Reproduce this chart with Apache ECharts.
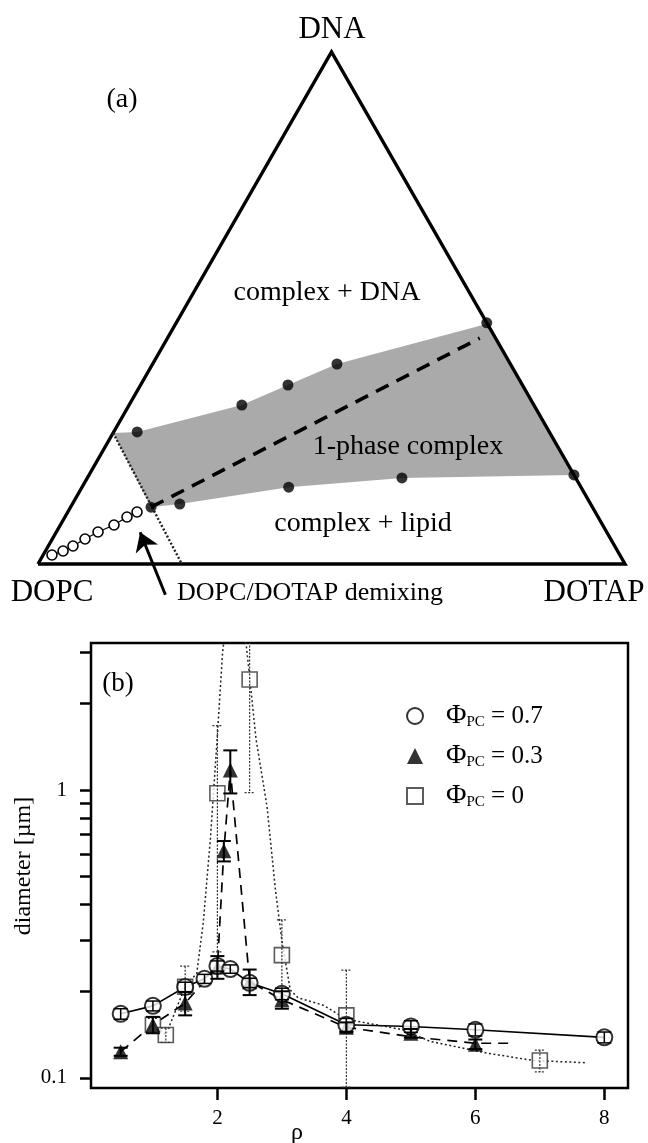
<!DOCTYPE html>
<html>
<head>
<meta charset="utf-8">
<script src="https://cdn.jsdelivr.net/npm/echarts@6/dist/echarts.min.js"></script>
<style>
  html, body { margin: 0; padding: 0; background: #fff; }
  #main { width: 648px; height: 1143px; }
</style>
</head>
<body>
<div id="main"></div>
<script>
// ---- (a) ternary diagram, compositions as [DOTAP fraction, DNA fraction] (DOPC = rest)
const vertices = [[0, 0], [1, 0], [0, 1], [0, 0]];
const boundaryTop = [[0.040, 0.258], [0.192, 0.3105], [0.251, 0.3496], [0.314, 0.3906], [0.529, 0.471]];
const boundaryBottom = [[0.137, 0.111], [0.183, 0.117], [0.352, 0.150], [0.536, 0.168], [0.826, 0.174]];
const demixPts = [[0.015, 0.0176], [0.030, 0.0254], [0.042, 0.0352], [0.0557, 0.0488],
                  [0.071, 0.0625], [0.0914, 0.0762], [0.1057, 0.0918], [0.1179, 0.1016]];
const isoelectric = [[0.137, 0.111], [0.532, 0.441]];
const demixBoundary = [[0, 0.256], [0.245, 0]];
const onePhase = [[0, 0.256], [0.040, 0.258], [0.192, 0.3105], [0.251, 0.3496], [0.314, 0.3906],
                  [0.531, 0.469], [0.826, 0.174], [0.536, 0.168], [0.352, 0.150], [0.183, 0.117], [0.137, 0.111]];
const arrowPts = [[0.247, -0.060], [0.143, 0.062]];

// ---- (b) diameter vs rho
const rho07 = [0.5, 1.0, 1.5, 1.8, 2.0, 2.2, 2.5, 3.0, 4.0, 5.0, 6.0, 8.0];
const d07 = [0.167, 0.178, 0.207, 0.221, 0.245, 0.239, 0.214, 0.196, 0.153, 0.151, 0.147, 0.1384];
const err07 = [0.007, 0.007, 0.008, 0.008, 0.010, 0.008, 0.008, 0.009, 0.008, 0.007, 0.007, 0.006];

const rho03 = [0.5, 1.0, 1.5, 2.0, 2.1, 2.2, 2.5, 3.0, 4.0, 5.0, 6.0];
const d03 = [0.1234, 0.153, 0.182, 0.243, 0.615, 1.173, 0.216, 0.187, 0.150, 0.143, 0.131];
const err03 = [0.004, 0.010, 0.017, 0.022, 0.050, 0.200, 0.022, 0.013, 0.006, 0.005, 0.005];
const rho03Guide = [0.5, 1.0, 1.5, 2.0, 2.1, 2.2, 2.5, 3.0, 4.0, 5.0, 6.0, 6.55];
const d03Guide = [0.1234, 0.153, 0.182, 0.243, 0.615, 1.173, 0.216, 0.187, 0.150, 0.139, 0.132, 0.132];

const rho00 = [1.0, 1.2, 1.5, 2.0, 2.5, 3.0, 4.0, 7.0];
const d00 = [0.153, 0.141, 0.2075, 0.974, 2.42, 0.267, 0.165, 0.115];
const err00 = [0.008, 0.008, 0.037, 0.70, 1.44, 0.087, 0.072, 0.010];
const rho00Guide = [1.0, 1.2, 1.5, 1.68, 1.78, 1.89, 2.0, 2.08, 2.2, 2.35, 2.46, 2.6, 2.77, 2.9, 3.0,
                    3.13, 3.25, 3.64, 4.0, 4.88, 5.3, 6.18, 6.9, 7.7];
const d00Guide = [0.153, 0.141, 0.2075, 0.231, 0.345, 0.67, 1.55, 3.0, 5, 5, 3.0, 1.5, 0.875, 0.45, 0.30,
                  0.202, 0.19, 0.179, 0.16, 0.147, 0.134, 0.122, 0.115, 0.113];

const xTicks = [2, 4, 6, 8];
const yTicks = [0.1, 0.2, 0.3, 0.4, 0.5, 0.6, 0.7, 0.8, 0.9, 1, 2, 3];
const yLabels = [0.1, 1];
const names = ['pc07', 'pc03', 'pc00'];
const legendText = { pc07: ' = 0.7', pc03: ' = 0.3', pc00: ' = 0' };

const S3 = Math.sqrt(3) / 2;
function tern(p) { return [p[0] + p[1] / 2, p[1] * S3]; }
function zip(a, b, c) { return a.map((v, i) => c ? [v, b[i], c[i]] : [v, b[i]]); }

var myChart = echarts.init(document.getElementById('main'));
const serif = 'Liberation Serif';

function errRender(capW, color, width, dash) {
  return function (params, api) {
    const x = api.value(0), y = api.value(1), e = api.value(2);
    const top = api.coord([x, y + e]);
    const bot = api.coord([x, Math.max(y - e, 0.001)]);
    const st = { stroke: color, lineWidth: width, lineDash: dash };
    return {
      type: 'group',
      children: [
        { type: 'line', shape: { x1: top[0], y1: top[1], x2: bot[0], y2: bot[1] }, style: st },
        { type: 'line', shape: { x1: top[0] - capW, y1: top[1], x2: top[0] + capW, y2: top[1] }, style: st },
        { type: 'line', shape: { x1: bot[0] - capW, y1: bot[1], x2: bot[0] + capW, y2: bot[1] }, style: st }
      ]
    };
  };
}

function txt(x, y, s, size, extra) {
  return Object.assign({
    type: 'text', x: x, y: y, z: 100,
    style: { text: s, fontFamily: serif, fontSize: size, fill: '#000', align: 'center', verticalAlign: 'middle' }
  }, extra || {});
}

var option = {
  animation: false,
  grid: [
    { left: 38, top: 52, width: 587, height: 512, show: false },
    { left: 91, top: 643, width: 537, height: 445, show: true, borderColor: '#000', borderWidth: 2.5 }
  ],
  xAxis: [
    { gridIndex: 0, type: 'value', min: 0, max: 1, show: false },
    {
      gridIndex: 1, type: 'value', min: 0.04, max: 8.367,
      axisLine: { show: false },
      splitLine: { show: false },
      axisTick: { show: true, inside: false, length: 12, customValues: xTicks, lineStyle: { color: '#000', width: 2.5 } },
      axisLabel: { customValues: xTicks, margin: 20, color: '#000', fontFamily: serif, fontSize: 21 }
    }
  ],
  yAxis: [
    { gridIndex: 0, type: 'value', min: 0, max: S3, show: false },
    {
      gridIndex: 1, type: 'log', logBase: 10, min: 0.0923, max: 3.24,
      axisLine: { show: false },
      splitLine: { show: false },
      minorTick: { show: false },
      axisTick: { show: true, inside: false, length: 11, customValues: yTicks, lineStyle: { color: '#000', width: 2.5 } },
      axisLabel: { customValues: yLabels, margin: 24, color: '#000', fontFamily: serif, fontSize: 21 }
    }
  ],
  legend: {
    orient: 'vertical', left: 401, top: 697, itemWidth: 16, itemHeight: 16, itemGap: 12,
    data: names,
    formatter: function (name) { return '{p|Φ}{s|PC}{a|' + legendText[name] + '}'; },
    textStyle: {
      lineHeight: 28,
      rich: {
        p: { fontFamily: serif, fontSize: 28, color: '#000', padding: [0, 0, 0, 18], lineHeight: 28 },
        s: { fontFamily: serif, fontSize: 15, color: '#000', verticalAlign: 'bottom', lineHeight: 16 },
        a: { fontFamily: serif, fontSize: 25, color: '#000', lineHeight: 28 }
      }
    }
  },
  graphic: [
    txt(332, 30, 'DNA', 31),
    txt(122, 100, '(a)', 28),
    txt(327, 293, 'complex + DNA', 28),
    txt(408, 447, '1-phase complex', 28),
    txt(363, 524, 'complex + lipid', 28),
    txt(52, 593, 'DOPC', 31),
    txt(594, 593, 'DOTAP', 31),
    txt(310, 593, 'DOPC/DOTAP demixing', 26),
    txt(118, 684, '(b)', 27),
    txt(24, 866, 'diameter [µm]', 24, { rotation: Math.PI / 2 }),
    txt(297, 1133, 'ρ', 24)
  ],
  series: [
    // ---------- (a)
    {
      type: 'custom', xAxisIndex: 0, yAxisIndex: 0, clip: false, silent: true, z: 1,
      data: [[0, 0]],
      renderItem: function (params, api) {
        return { type: 'polygon', shape: { points: onePhase.map(p => api.coord(tern(p))) }, style: { fill: '#aaaaaa' } };
      }
    },
    {
      type: 'line', xAxisIndex: 0, yAxisIndex: 0, clip: false, symbol: 'none', z: 3,
      data: vertices.map(tern),
      lineStyle: { color: '#000', width: 3.4, join: 'miter' }
    },
    {
      type: 'line', xAxisIndex: 0, yAxisIndex: 0, clip: false, symbol: 'none', z: 3,
      data: demixBoundary.map(tern),
      lineStyle: { color: '#222', width: 2.4, type: [2, 2] }
    },
    {
      type: 'line', xAxisIndex: 0, yAxisIndex: 0, clip: false, symbol: 'none', z: 3,
      data: isoelectric.map(tern),
      lineStyle: { color: '#000', width: 3.6, type: [14, 9] }
    },
    {
      type: 'line', xAxisIndex: 0, yAxisIndex: 0, clip: false, z: 3,
      data: demixPts.map(tern),
      symbol: 'circle', symbolSize: 10,
      itemStyle: { color: '#fff', borderColor: '#000', borderWidth: 1.6 },
      lineStyle: { color: '#000', width: 1.3 }
    },
    {
      type: 'scatter', xAxisIndex: 0, yAxisIndex: 0, clip: false, z: 4,
      data: boundaryTop.concat(boundaryBottom).map(tern),
      symbol: 'circle', symbolSize: 11, itemStyle: { color: '#000' }
    },
    {
      type: 'lines', coordinateSystem: 'cartesian2d', xAxisIndex: 0, yAxisIndex: 0, clip: false, z: 4,
      symbol: ['none', 'arrow'], symbolSize: [13, 18],
      data: [{ coords: arrowPts.map(tern) }],
      lineStyle: { color: '#000', width: 3, opacity: 1 }
    },
    // ---------- (b) guide lines
    {
      type: 'line', xAxisIndex: 1, yAxisIndex: 1, symbol: 'none', z: 2,
      data: zip(rho07, d07), lineStyle: { color: '#000', width: 1.6 }
    },
    {
      type: 'line', xAxisIndex: 1, yAxisIndex: 1, symbol: 'none', z: 2,
      data: zip(rho03Guide, d03Guide), lineStyle: { color: '#000', width: 1.7, type: [10, 7] }
    },
    {
      type: 'line', xAxisIndex: 1, yAxisIndex: 1, symbol: 'none', z: 2,
      data: zip(rho00Guide, d00Guide), lineStyle: { color: '#222', width: 1.5, type: [2, 2.5] }
    },
    // ---------- (b) markers
    {
      name: 'pc00', type: 'scatter', xAxisIndex: 1, yAxisIndex: 1, z: 3,
      data: zip(rho00, d00), symbol: 'rect', symbolSize: 15,
      itemStyle: { color: '#fff', borderColor: '#333', borderWidth: 1.6 }
    },
    {
      name: 'pc03', type: 'scatter', xAxisIndex: 1, yAxisIndex: 1, z: 4,
      data: zip(rho03, d03), symbol: 'triangle', symbolSize: 15,
      itemStyle: { color: '#000' }
    },
    {
      name: 'pc07', type: 'scatter', xAxisIndex: 1, yAxisIndex: 1, z: 5,
      data: zip(rho07, d07), symbol: 'circle', symbolSize: 16,
      itemStyle: { color: '#fff', borderColor: '#000', borderWidth: 2 }
    },
    // ---------- (b) error bars
    {
      type: 'custom', xAxisIndex: 1, yAxisIndex: 1, clip: true, z: 6, silent: true,
      data: zip(rho00, d00, err00), renderItem: errRender(5, '#333', 1.2, [2, 1.5])
    },
    {
      type: 'custom', xAxisIndex: 1, yAxisIndex: 1, clip: true, z: 6, silent: true,
      data: zip(rho03, d03, err03), renderItem: errRender(7, '#000', 2, null)
    },
    {
      type: 'custom', xAxisIndex: 1, yAxisIndex: 1, clip: true, z: 6, silent: true,
      data: zip(rho07, d07, err07), renderItem: errRender(7, '#000', 1.5, null)
    }
  ]
};
myChart.setOption(option);
</script>
</body>
</html>
